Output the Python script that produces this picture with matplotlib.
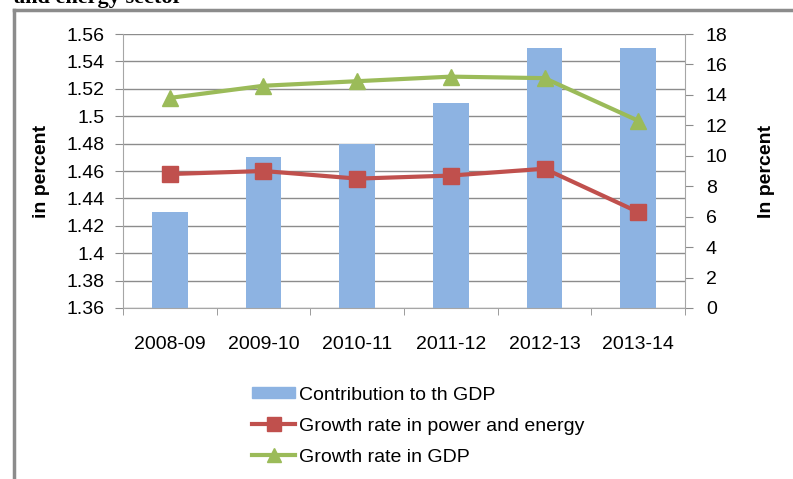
import numpy as np
import matplotlib
matplotlib.use('Agg')
import matplotlib.pyplot as plt
from matplotlib.lines import Line2D

plt.rcParams['font.family'] = ['Liberation Sans', 'DejaVu Sans']

# Data
years = ['2008-09', '2009-10', '2010-11', '2011-12', '2012-13', '2013-14']
contribution = [1.43, 1.47, 1.48, 1.51, 1.55, 1.55]
power_growth = [8.8, 9.0, 8.5, 8.7, 9.15, 6.3]
gdp_growth = [13.8, 14.6, 14.9, 15.2, 15.1, 12.3]

left_ticks = [1.36, 1.38, 1.40, 1.42, 1.44, 1.46, 1.48, 1.50, 1.52, 1.54, 1.56]
left_tick_labels = ['1.36', '1.38', '1.4', '1.42', '1.44', '1.46', '1.48', '1.5', '1.52', '1.54', '1.56']
right_ticks = list(range(0, 19, 2))

blue = '#8DB3E2'
red = '#C0504D'
green = '#9BBB59'
grey = '#8C8C8C'
fs = 14

fig = plt.figure(figsize=(7.93, 4.79), dpi=100)
ax = fig.add_axes([0.155, 0.357, 0.709, 0.572])
x = np.arange(len(years))

ax.bar(x, [c - 1.36 for c in contribution], bottom=1.36, width=0.38, color=blue, zorder=2)
ax.set_ylim(1.36, 1.56)
ax.set_xlim(-0.5, len(years) - 0.5)
ax.set_yticks(left_ticks)
ax.set_yticklabels(left_tick_labels)
ax.set_xticks(x)
ax.set_xticklabels(years)
ax.set_xticks(np.arange(-0.5, len(years), 1), minor=True)
ax.tick_params(axis='x', which='major', length=0, pad=20, labelsize=fs)
ax.tick_params(axis='x', which='minor', length=5, color=grey)
ax.tick_params(axis='y', length=6, color=grey, labelsize=fs, pad=7)
ax.grid(axis='y', color=grey, linewidth=1, zorder=0)
ax.set_axisbelow(True)
for s in ['top', 'right']:
    ax.spines[s].set_visible(False)
for s in ['left', 'bottom']:
    ax.spines[s].set_color('#A6A6A6')
ax.set_ylabel('in percent', fontsize=fs, fontweight='bold', labelpad=12)

ax2 = ax.twinx()
ax2.plot(x, power_growth, color=red, linewidth=3, marker='s', markersize=11, zorder=3)
ax2.plot(x, gdp_growth, color=green, linewidth=3, marker='^', markersize=12, zorder=3)
ax2.set_ylim(0, 18)
ax2.set_yticks(right_ticks)
ax2.tick_params(axis='y', length=6, color=grey, labelsize=fs, pad=9)
for s in ['top', 'left', 'bottom']:
    ax2.spines[s].set_visible(False)
ax2.spines['right'].set_color('#A6A6A6')
ax2.set_ylabel('In percent', fontsize=fs, fontweight='bold', labelpad=22)

handles = [
    plt.Rectangle((0, 0), 1, 1, color=blue),
    Line2D([], [], color=red, linewidth=3, marker='s', markersize=10),
    Line2D([], [], color=green, linewidth=3, marker='^', markersize=10),
]
labels = ['Contribution to th GDP', 'Growth rate in power and energy', 'Growth rate in GDP']
fig.legend(handles, labels, loc='upper left', bbox_to_anchor=(0.318, 0.193),
           frameon=False, fontsize=fs, handlelength=2.2, handleheight=0.5,
           handletextpad=0.2, labelspacing=0.72, borderpad=0, borderaxespad=0)

# outer frame lines (left and top) and clipped heading
fig.add_artist(Line2D([14 / 793, 14 / 793], [0, 1 - 10 / 479], color='#8C8C8C', linewidth=2.5))
fig.add_artist(Line2D([14 / 793, 1], [1 - 10 / 479, 1 - 10 / 479], color='#8C8C8C', linewidth=2.5))
fig.text(14 / 793, 1.004, 'and energy sector', fontsize=16, fontweight='bold',
         family=['Liberation Serif', 'DejaVu Serif'], va='center', ha='left')

fig.savefig('out.png', dpi=100)
